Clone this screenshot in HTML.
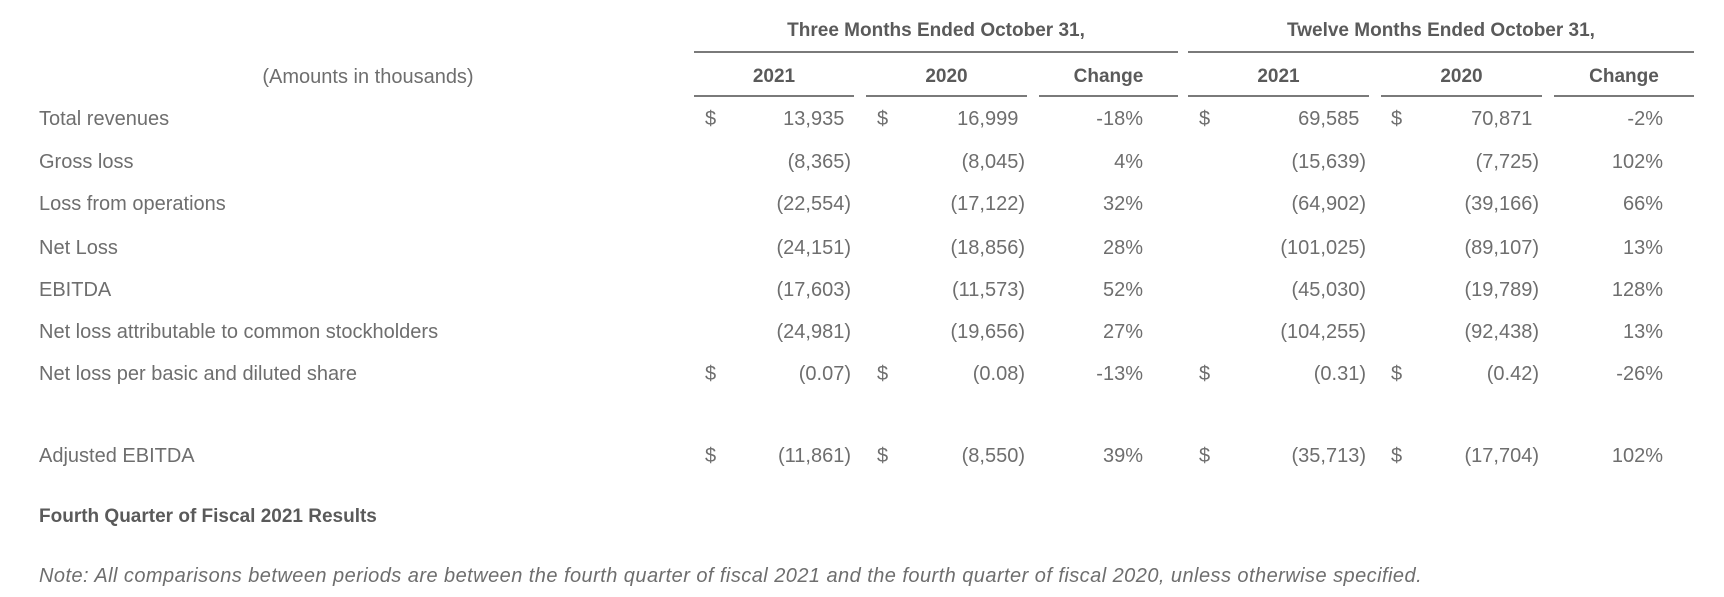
<!DOCTYPE html>
<html><head><meta charset="utf-8">
<style>
body{margin:0;width:1724px;height:597px;background:#fff;font-family:"Liberation Sans",sans-serif;color:#6e6e6e;position:relative;overflow:hidden}
.t{position:absolute;white-space:nowrap;font-size:20px;line-height:24px}
.h{color:#5a5a5a;font-weight:bold;font-size:19px}
.r{text-align:right}
.c{text-align:center}
.ln{position:absolute;height:2px;background:#7a7a7a}
.ghost{visibility:hidden}
</style></head><body>
<div class="t h c" style="left:694px;width:484px;top:19px">Three Months Ended October 31,</div>
<div class="t h c" style="left:1188px;width:506px;top:19px">Twelve Months Ended October 31,</div>
<div class="ln" style="left:694px;width:484px;top:51px"></div>
<div class="ln" style="left:1188px;width:506px;top:51px"></div>
<div class="t c" style="left:200px;width:336px;top:65px">(Amounts in thousands)</div>
<div id="tbl"></div>
<div class="t h" style="left:39px;top:505px">Fourth Quarter of Fiscal 2021 Results</div>
<div class="t" style="left:39px;top:564px;font-style:italic;font-size:20px;letter-spacing:0.45px">Note: All comparisons between periods are between the fourth quarter of fiscal 2021 and the fourth quarter of fiscal 2020, unless otherwise specified.</div>
<script>
const subHeads=["2021","2020","Change","2021","2020","Change"];
const colL=[694,866,1039,1188,1381,1554];
const colR=[854,1027,1178,1369,1542,1694];
const labels=["Total revenues","Gross loss","Loss from operations","Net Loss","EBITDA","Net loss attributable to common stockholders","Net loss per basic and diluted share","Adjusted EBITDA"];
const rowY=[107,150,192,236,278,320,362,444];
const q2021=["13,935","(8,365)","(22,554)","(24,151)","(17,603)","(24,981)","(0.07)","(11,861)"];
const q2020=["16,999","(8,045)","(17,122)","(18,856)","(11,573)","(19,656)","(0.08)","(8,550)"];
const qChg=["-18%","4%","32%","28%","52%","27%","-13%","39%"];
const y2021=["69,585","(15,639)","(64,902)","(101,025)","(45,030)","(104,255)","(0.31)","(35,713)"];
const y2020=["70,871","(7,725)","(39,166)","(89,107)","(19,789)","(92,438)","(0.42)","(17,704)"];
const yChg=["-2%","102%","66%","13%","128%","13%","-26%","102%"];
const dollarRows=[0,6,7];
const tbl=document.getElementById('tbl');
function mk(cls,txt,style){const d=document.createElement('div');d.className='t '+cls;d.innerHTML=txt;d.style.cssText=style;tbl.appendChild(d);return d;}
subHeads.forEach((s,i)=>{
 const d=mk('h c',s,`left:${colL[i]}px;width:${colR[i]-colL[i]}px;top:65px`);
 
 
 const l=document.createElement('div');l.className='ln';l.style.cssText=`left:${colL[i]}px;width:${colR[i]-colL[i]}px;top:95px`;
 
 
 tbl.appendChild(l);
});
const numCols=[[q2021,851],[q2020,1025],[qChg,1143,true],[y2021,1366],[y2020,1539],[yChg,1663,true]];
const dollarX=[709,881,null,1203,1395,null];
labels.forEach((lab,r)=>{
 const y=rowY[r];
 const d=mk('',lab,`left:39px;top:${y}px`);
 
 
 numCols.forEach(([arr,right,pct],c)=>{
  let v=arr[r];
  if(!pct && v[0]!=='(') v+='<span class="ghost">)</span>';
  const e=mk('r',v,`right:${1724-right}px;top:${y}px`);
  
  
  if(dollarRows.includes(r)&&dollarX[c]!==null){
   const s=mk('','$',`left:${dollarX[c]-4}px;top:${y}px`);
   
   
  }
 });
});
</script>
</body></html>
